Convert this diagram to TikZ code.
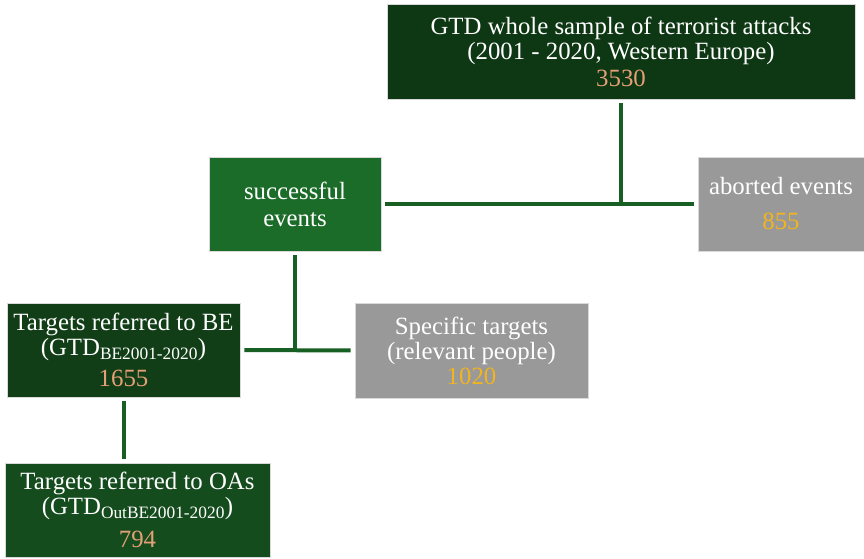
\documentclass[tikz,border=0pt]{standalone}
\usepackage{fontspec}
\setmainfont{Liberation Serif}
\usepackage{xcolor}
\usepackage{tikz}
\usetikzlibrary{positioning,calc}

\definecolor{darkgtd}{RGB}{14,55,20}
\definecolor{midgtd}{RGB}{27,108,40}
\definecolor{begtd}{RGB}{17,62,23}
\definecolor{oagtd}{RGB}{21,76,30}
\definecolor{greybox}{RGB}{153,153,153}
\definecolor{linkgreen}{RGB}{24,95,35}
\definecolor{salmon}{RGB}{228,160,118}
\definecolor{goldnum}{RGB}{242,180,30}

\tikzset{
    box/.style={draw=white!85!black, line width=0.8pt, text=white, align=center, inner sep=0pt,
        font=\fontsize{24.8}{25}\selectfont},
    link/.style={draw=linkgreen, line width=4pt, shorten <=4pt, shorten >=4pt}
}

\begin{document}
\begin{tikzpicture}[x=1pt, y=-1pt]
    \useasboundingbox (0,0) rectangle (864,559);

    % whole sample
    \node[box, fill=darkgtd, minimum width=468pt, minimum height=95pt] (whole) at (621,51.5)
        {GTD whole sample of terrorist attacks\\(2001 - 2020, Western Europe)\\[2pt]\textcolor{salmon}{3530}};

    % successful / aborted
    \node[box, fill=midgtd, minimum width=172pt, minimum height=94pt] (succ) at (295,204)
        {successful\\[2pt]events};
    \node[box, fill=greybox, minimum width=166pt, minimum height=94pt] (abort) at (781,204)
        {aborted events\\[10pt]\textcolor{goldnum}{855}};
    \coordinate (j1) at (whole.south |- succ.east);
    \draw[link, shorten >=0pt] (whole.south) -- (j1);
    \draw[link] (succ.east) -- (abort.west);

    % targets
    \node[box, fill=begtd, minimum width=233pt, minimum height=94pt] (be) at (123.5,350)
        {Targets referred to BE\\(GTD\textsubscript{BE2001-2020})\\[6pt]\textcolor{salmon}{1655}};
    \node[box, fill=greybox, minimum width=233pt, minimum height=95pt] (spec) at (471.5,350.5)
        {Specific targets\\(relevant people)\\\textcolor{goldnum}{1020}};
    \draw[link, shorten >=0pt] (succ.south) -- (succ.south |- be.east);
    \draw[link] (be.east) -- (spec.west);

    % other areas
    \node[box, fill=oagtd, minimum width=265pt, minimum height=94pt] (oas) at (137.5,510)
        {Targets referred to OAs\\(GTD\textsubscript{OutBE2001-2020})\\[8pt]\textcolor{salmon}{794}};
    \draw[link] (be.south) -- (be.south |- oas.north);
\end{tikzpicture}
\end{document}
